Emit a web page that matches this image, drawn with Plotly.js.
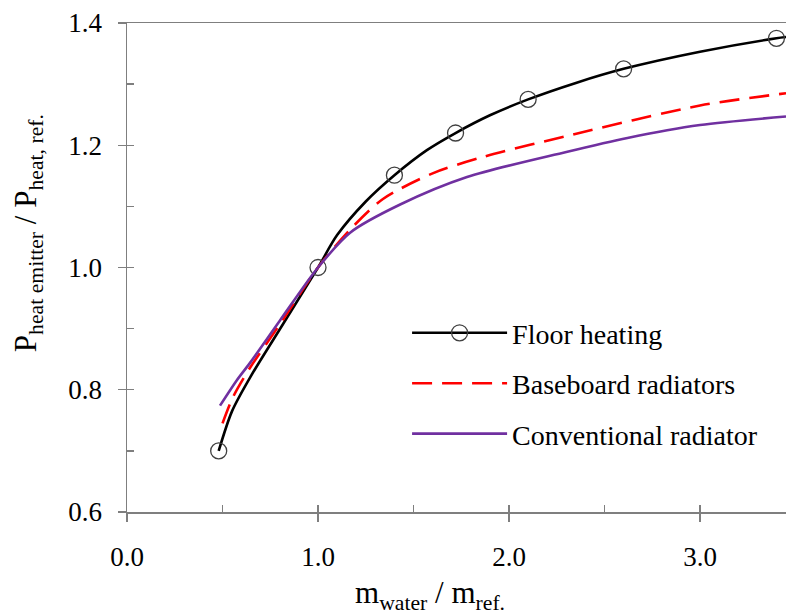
<!DOCTYPE html>
<html>
<head>
<meta charset="utf-8">
<script src="https://cdn.plot.ly/plotly-3.0.1.min.js"></script>
<style>html,body{margin:0;padding:0;background:#fff;}#chart{width:786px;height:614px;}</style>
</head>
<body>
<div id="chart"></div>
<script>
// Floor heating curve
const floorX = [0.48, 0.55, 0.65, 0.8, 1.0, 1.1, 1.25, 1.4, 1.57, 1.72, 1.9, 2.1, 2.35, 2.6, 3.0, 3.4, 3.45];
const floorY = [0.70, 0.765, 0.823, 0.899, 1.0, 1.053, 1.108, 1.151, 1.192, 1.22, 1.249, 1.275, 1.302, 1.325, 1.353, 1.375, 1.377];
// Floor heating markers
const floorMarkX = [0.48, 1.0, 1.4, 1.72, 2.1, 2.6, 3.4];
const floorMarkY = [0.70, 1.0, 1.151, 1.22, 1.275, 1.325, 1.375];
// Baseboard radiators
const baseX = [0.5, 0.555, 0.644, 0.8, 1.0, 1.168, 1.34, 1.6, 1.866, 2.3, 3.0, 3.45];
const baseY = [0.745, 0.788, 0.836, 0.907, 1.0, 1.062, 1.112, 1.154, 1.181, 1.215, 1.265, 1.285];
// Conventional radiator
const convX = [0.487, 0.576, 0.644, 0.8, 1.0, 1.168, 1.43, 1.78, 2.3, 2.62, 3.0, 3.45];
const convY = [0.774, 0.816, 0.844, 0.913, 1.0, 1.057, 1.103, 1.148, 1.189, 1.212, 1.233, 1.247];

const names = ['Floor heating', 'Baseboard radiators', 'Conventional radiator'];
const xTitle = 'm<sub>water</sub> / m<sub>ref.</sub>';
const yTitle = 'P<sub>heat emitter</sub> / P<sub>heat, ref.</sub>';

const FONT = "'Liberation Serif', 'DejaVu Serif', serif";
const markerStyle = {symbol: 'circle-open', size: 16, color: '#404040', line: {width: 1.3, color: '#404040'}};
const SM = 0.8;

const traces = [
  {x: floorX, y: floorY, mode: 'lines', line: {color: '#000', width: 2.6, shape: 'spline', smoothing: SM}, showlegend: false, hoverinfo: 'skip'},
  {x: floorMarkX, y: floorMarkY, mode: 'markers', marker: markerStyle, showlegend: false},
  {x: [null], y: [null], mode: 'lines+markers', name: names[0], legendgroup: 'a',
   line: {color: '#000', width: 2.6}, marker: markerStyle},
  {x: baseX, y: baseY, mode: 'lines', name: names[1], legendgroup: 'b',
   line: {color: '#FF0000', width: 2.6, dash: '20px,10px', shape: 'spline', smoothing: SM}},
  {x: convX, y: convY, mode: 'lines', name: names[2], legendgroup: 'c',
   line: {color: '#7030A0', width: 2.6, shape: 'spline', smoothing: SM}},
  {x: [null], y: [null], xaxis: 'x2', yaxis: 'y2', showlegend: false, hoverinfo: 'skip'}
];

const axisCommon = {
  showgrid: false, zeroline: false, showline: true, linecolor: '#7f7f7f', linewidth: 1.5,
  ticks: 'outside', ticklen: 8, tickwidth: 1.3, tickcolor: '#7f7f7f',
  tickfont: {family: FONT, size: 27, color: '#000'}, tickformat: '.1f'
};

const layout = {
  width: 786, height: 614,
  margin: {l: 127, r: 0, t: 23, b: 102},
  paper_bgcolor: '#fff', plot_bgcolor: '#fff',
  font: {family: FONT, color: '#000'},
  xaxis: Object.assign({}, axisCommon, {
    range: [0, 3.45], tick0: 0, dtick: 1, mirror: true, ticklabelstandoff: 12
  }),
  yaxis: Object.assign({}, axisCommon, {
    range: [0.6, 1.4], tick0: 0.6, dtick: 0.2, ticklabelstandoff: 10
  }),
  xaxis2: {overlaying: 'x', anchor: 'y2', side: 'bottom', range: [0, 3.45], tick0: 0, dtick: 0.5,
    ticks: 'inside', ticklen: 7, tickwidth: 1.3, tickcolor: '#7f7f7f', showticklabels: false,
    showline: false, showgrid: false, zeroline: false},
  yaxis2: {overlaying: 'y', anchor: 'x2', side: 'left', range: [0.6, 1.4], tick0: 0.6, dtick: 0.1,
    ticks: 'inside', ticklen: 7, tickwidth: 1.3, tickcolor: '#7f7f7f', showticklabels: false,
    showline: false, showgrid: false, zeroline: false},
  annotations: [
    {text: xTitle, xref: 'paper', yref: 'paper', x: 0.46, y: -0.17, xanchor: 'center', yanchor: 'middle',
     showarrow: false, font: {family: FONT, size: 31, color: '#000'}},
    {text: yTitle, xref: 'paper', yref: 'paper', x: -0.15, y: 0.5706, xanchor: 'center', yanchor: 'middle',
     textangle: -90, showarrow: false, font: {family: FONT, size: 31, color: '#000'}}
  ],
  legend: {
    x: 0.425, y: 0.417, xanchor: 'left', yanchor: 'top',
    bgcolor: 'rgba(0,0,0,0)', borderwidth: 0, tracegroupgap: 11,
    font: {family: FONT, size: 28, color: '#000'}, itemwidth: 95
  },
  showlegend: true
};

Plotly.newPlot('chart', traces, layout, {displayModeBar: false, staticPlot: true});
</script>
</body>
</html>
